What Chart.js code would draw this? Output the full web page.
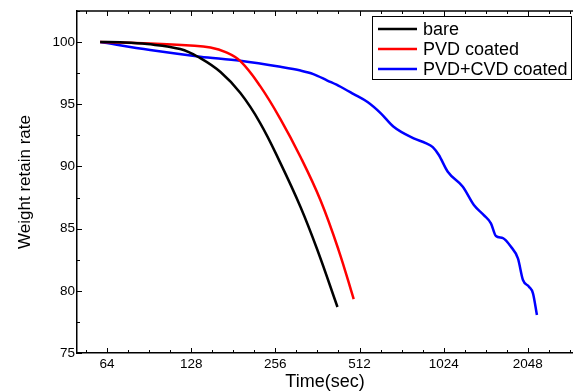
<!DOCTYPE html>
<html>
<head>
<meta charset="utf-8">
<script src="https://cdn.jsdelivr.net/npm/chart.js@4.4.1/dist/chart.umd.min.js"></script>
<style>
  html, body { margin: 0; padding: 0; background: #fff; overflow: hidden; }
  #c { display: block; }
</style>
</head>
<body>
<canvas id="c" width="573" height="392"></canvas>
<script>
// ---- Data ----
const seriesNames = ["bare", "PVD coated", "PVD+CVD coated"];
const seriesColors = ["#000000", "#ff0000", "#0000ff"];

const bareTime  = [60.5, 71.3, 89.1, 117, 138, 163, 192, 226, 267, 315, 362, 427];
const bareValue = [100, 99.98, 99.84, 99.44, 98.71, 97.59, 95.90, 93.49, 90.27, 86.74, 83.28, 78.70];

const pvdTime  = [60.5, 91.3, 127, 150, 170, 192, 226, 267, 315, 371, 431, 488];
const pvdValue = [100, 99.88, 99.72, 99.56, 99.2, 98.47, 96.46, 93.81, 90.76, 87.30, 83.28, 79.34];

const cvdTime  = [60.5, 91.3, 138, 192, 267, 315, 350, 393, 438, 488, 547, 609, 678, 800, 883, 936, 984, 1059, 1199, 1313, 1425, 1511, 1574, 1668, 1782, 1887, 1967, 2067, 2136, 2207];
const cvdValue = [100, 99.36, 98.83, 98.50, 98.01, 97.71, 97.43, 96.91, 96.41, 95.82, 95.18, 94.29, 93.19, 92.26, 91.88, 91.56, 90.92, 89.57, 88.37, 86.90, 86.09, 85.43, 84.41, 84.24, 83.54, 82.61, 80.87, 80.33, 79.80, 78.05];

const xTicks = [64, 128, 256, 512, 1024, 2048];
const yTicks = [75, 80, 85, 90, 95, 100];
const xTitle = "Time(sec)";
const yTitle = "Weight retain rate";

// ---- Build chart ----
function pts(xs, ys) { return xs.map((x, i) => ({ x: x, y: ys[i] })); }
const seriesData = [pts(bareTime, bareValue), pts(pvdTime, pvdValue), pts(cvdTime, cvdValue)];
const seriesSmooth = ['default', 'default', 'monotone'];

const FONT = "'Liberation Sans', Arial, Helvetica, sans-serif";

const tickPlugin = {
  id: 'inwardTicks',
  afterDraw(chart) {
    const ctx = chart.ctx, a = chart.chartArea;
    const xs = chart.scales.x, ys = chart.scales.y;
    ctx.save();
    ctx.strokeStyle = '#000';
    ctx.lineWidth = 1.5;
    ctx.beginPath(); ctx.moveTo(a.left, a.top); ctx.lineTo(a.right + 2, a.top); ctx.stroke();
    ctx.lineWidth = 1;
    const drawX = (v, len) => {
      if (v < xs.min || v > xs.max) return;
      const px = Math.round(xs.getPixelForValue(v)) + 0.5;
      ctx.beginPath();
      ctx.moveTo(px, a.bottom); ctx.lineTo(px, a.bottom - len);
      ctx.moveTo(px, a.top); ctx.lineTo(px, a.top + len);
      ctx.stroke();
    };
    for (let b = 32; b <= 4096; b *= 2) {
      drawX(b, 5);
      for (let k = 1; k < 4; k++) drawX(b * Math.pow(2, k / 4), 3);
    }
    const drawY = (v, len) => {
      if (v < ys.min || v > ys.max) return;
      const py = Math.round(ys.getPixelForValue(v)) + 0.5;
      ctx.beginPath(); ctx.moveTo(a.left, py); ctx.lineTo(a.left + len, py); ctx.stroke();
    };
    for (let v = 75; v <= 100; v += 5) { drawY(v, 5); drawY(v + 2.5, 3); }
    ctx.restore();
  }
};

const legendPlugin = {
  id: 'boxLegend',
  afterDraw(chart) {
    const ctx = chart.ctx;
    ctx.save();
    const bx = 372, by = 16, bw = 199, bh = 63;
    ctx.fillStyle = '#fff';
    ctx.fillRect(bx, by, bw, bh);
    ctx.strokeStyle = '#000';
    ctx.lineWidth = 1;
    ctx.strokeRect(bx + 0.5, by + 0.5, bw, bh);
    ctx.font = "18px " + FONT;
    ctx.textBaseline = 'middle';
    ctx.textAlign = 'left';
    chart.data.datasets.forEach((ds, i) => {
      const y = by + 13 + i * 20;
      ctx.strokeStyle = ds.borderColor;
      ctx.lineWidth = 2.5;
      ctx.beginPath(); ctx.moveTo(378, y); ctx.lineTo(417, y); ctx.stroke();
      ctx.fillStyle = '#000';
      ctx.fillText(ds.label, 423, y + 1);
    });
    ctx.restore();
  }
};

new Chart(document.getElementById('c'), {
  type: 'line',
  data: {
    datasets: seriesData.map((d, i) => ({
      label: seriesNames[i],
      data: d,
      borderColor: seriesColors[i],
      backgroundColor: seriesColors[i],
      borderWidth: 2.5,
      pointRadius: 0,
      fill: false,
      tension: 0.4,
      cubicInterpolationMode: seriesSmooth[i]
    }))
  },
  options: {
    responsive: false,
    animation: false,
    devicePixelRatio: 1,
    layout: { padding: { top: 11, right: 0, left: 0, bottom: 0 } },
    plugins: { legend: { display: false }, tooltip: { enabled: false } },
    scales: {
      x: {
        type: 'logarithmic',
        min: 50, max: 2970,
        afterBuildTicks(scale) { scale.ticks = xTicks.map(v => ({ value: v })); },
        afterFit(scale) { scale.height = 39; },
        grid: { display: true, drawOnChartArea: false, drawTicks: false },
        border: { display: true, color: '#000', width: 1.5 },
        ticks: {
          autoSkip: false, maxRotation: 0, padding: 3,
          color: '#000', font: { family: FONT, size: 13.5 },
          callback: (v) => String(v)
        },
        title: {
          display: true, text: xTitle, color: '#000',
          font: { family: FONT, size: 18, lineHeight: 1 },
          padding: { top: 0, bottom: 1 }
        }
      },
      y: {
        type: 'linear',
        min: 75, max: 102.5,
        afterBuildTicks(scale) { scale.ticks = yTicks.map(v => ({ value: v })); },
        afterFit(scale) { scale.width = 77; },
        grid: { display: true, drawOnChartArea: false, drawTicks: false },
        border: { display: true, color: '#000', width: 1.5 },
        ticks: {
          autoSkip: false, padding: 2,
          color: '#000', font: { family: FONT, size: 13.5 },
          callback: (v) => String(v)
        },
        title: {
          display: true, text: yTitle, color: '#000',
          font: { family: FONT, size: 17, lineHeight: 1 },
          padding: { top: 17, bottom: 0 }
        }
      }
    }
  },
  plugins: [tickPlugin, legendPlugin]
});
</script>
</body>
</html>
